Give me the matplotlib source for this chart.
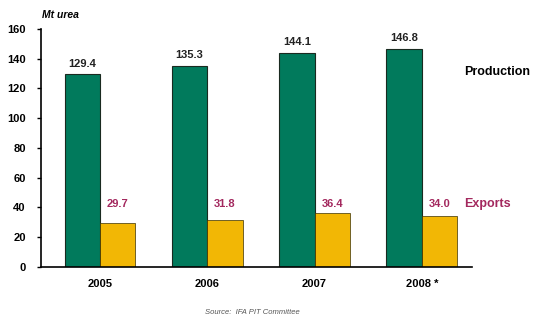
import matplotlib.pyplot as plt
import numpy as np

plt.rcParams['font.family'] = ['Liberation Sans', 'DejaVu Sans']

years = ["2005", "2006", "2007", "2008 *"]
production = [129.4, 135.3, 144.1, 146.8]
exports = [29.7, 31.8, 36.4, 34.0]

green = "#017a5c"
yellow = "#f2b705"
maroon = "#a3285e"

fig = plt.figure(figsize=(5.33, 3.22), dpi=100)
ax = fig.add_axes([0.077, 0.171, 0.809, 0.739])

x = np.arange(len(years))
w = 0.33
ax.bar(x - w / 2, production, w, color=green, edgecolor="#1a2a20", linewidth=0.8)
ax.bar(x + w / 2, exports, w, color=yellow, edgecolor="#3a3000", linewidth=0.5)

for xi, p, e in zip(x, production, exports):
    ax.text(xi - w / 2, p + 4, f"{p:.1f}", ha="center", va="bottom",
            fontsize=8, fontweight="bold", color="#222222")
    ax.text(xi + w / 2, 42.5, f"{e:.1f}", ha="center", va="center",
            fontsize=8, fontweight="bold", color=maroon)

ax.text(3.39, 131, "Production", ha="left", va="center",
        fontsize=9, fontweight="bold", color="black", clip_on=False)
ax.text(3.39, 42.5, "Exports", ha="left", va="center",
        fontsize=9, fontweight="bold", color=maroon, clip_on=False)

ax.set_xlim(-0.55, 3.47)
ax.set_ylim(0, 160)
ax.set_yticks(range(0, 161, 20))
ax.set_xticks(x)
ax.set_xticklabels(years, fontsize=8, fontweight="bold")
ax.tick_params(axis="y", labelsize=8, length=3, width=1, pad=8)
ax.tick_params(axis="x", length=0, pad=9)
for lbl in ax.get_yticklabels():
    lbl.set_fontweight("bold")

for s in ["top", "right"]:
    ax.spines[s].set_visible(False)
ax.spines["left"].set_linewidth(1.2)
ax.spines["bottom"].set_linewidth(1.2)

fig.text(0.079, 0.953, "Mt urea", fontsize=7.5, fontweight="bold",
         style="italic", ha="left", va="center")
fig.text(0.385, 0.028, "Source:  IFA PIT Committee", fontsize=5.5,
         style="italic", color="#555555", ha="left", va="center")

fig.savefig("out.png", dpi=100)
